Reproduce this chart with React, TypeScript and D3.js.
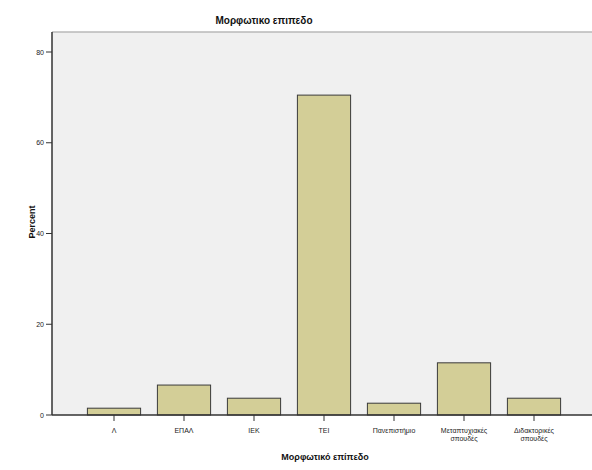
import React from "react";
import * as d3 from "d3";

const categories = ["Λ", "ΕΠΑΛ", "ΙΕΚ", "ΤΕΙ", "Πανεπιστήμιο", "Μεταπτυχιακές σπουδές", "Διδακτορικές σπουδές"];
const percents = [1.5, 6.6, 3.7, 70.5, 2.6, 11.5, 3.7];
const yTicks = [0, 20, 40, 60, 80];

const W = 592;
const H = 470;
const plot = { left: 52, right: 596, top: 32, bottom: 415 };

export default function App() {
  const x = d3
    .scaleBand<string>()
    .domain(categories)
    .range([79, 569])
    .paddingInner(0.24)
    .paddingOuter(0.12);
  const y = d3.scaleLinear().domain([0, 80]).range([plot.bottom, 52]);

  const font = "'Liberation Sans', Arial, sans-serif";

  return (
    <svg
      width={W}
      height={H}
      style={{ position: "absolute", left: 0, top: 0, background: "#fff" }}
      fontFamily={font}
    >
      {/* plot background */}
      <rect
        x={plot.left}
        y={plot.top}
        width={plot.right - plot.left}
        height={plot.bottom - plot.top}
        fill="#F0F0F0"
      />
      <line x1={plot.left} x2={plot.right} y1={plot.top} y2={plot.top} stroke="#B8B8B8" strokeWidth={1.5} />

      {/* bars */}
      {categories.map((c, i) => (
        <rect
          key={c}
          x={x(c)}
          y={y(percents[i])}
          width={x.bandwidth()}
          height={plot.bottom - y(percents[i])}
          fill="#D3CE97"
          stroke="#3A3A3A"
          strokeWidth={1}
        />
      ))}

      {/* y axis */}
      <line x1={plot.left} x2={plot.left} y1={plot.top} y2={plot.bottom} stroke="#333" strokeWidth={1.5} />
      {yTicks.map((t) => (
        <g key={t}>
          <line x1={plot.left - 6} x2={plot.left} y1={y(t)} y2={y(t)} stroke="#333" strokeWidth={1} />
          <text x={plot.left - 8} y={y(t) + 2.5} fontSize={7} textAnchor="end" fill="#222">
            {t}
          </text>
        </g>
      ))}
      <text
        transform={`translate(35,222) rotate(-90)`}
        fontSize={9}
        fontWeight="bold"
        textAnchor="middle"
        fill="#111"
      >
        Percent
      </text>

      {/* x axis */}
      <line x1={plot.left} x2={plot.right} y1={plot.bottom} y2={plot.bottom} stroke="#333" strokeWidth={1.5} />
      {categories.map((c) => {
        const cx = (x(c) as number) + x.bandwidth() / 2;
        const words = c.split(" ");
        return (
          <g key={c}>
            <line x1={cx} x2={cx} y1={plot.bottom} y2={plot.bottom + 6} stroke="#333" strokeWidth={1} />
            {words.map((w, k) => (
              <text key={k} x={cx} y={433 + k * 8} fontSize={7} textAnchor="middle" fill="#222">
                {w}
              </text>
            ))}
          </g>
        );
      })}
      <text x={325} y={460} fontSize={9} fontWeight="bold" textAnchor="middle" fill="#111">
        Μορφωτικό επίπεδο
      </text>

      {/* title */}
      <text x={264} y={24} fontSize={10} fontWeight="bold" textAnchor="middle" fill="#111">
        Μορφωτικο επιπεδο
      </text>
    </svg>
  );
}
